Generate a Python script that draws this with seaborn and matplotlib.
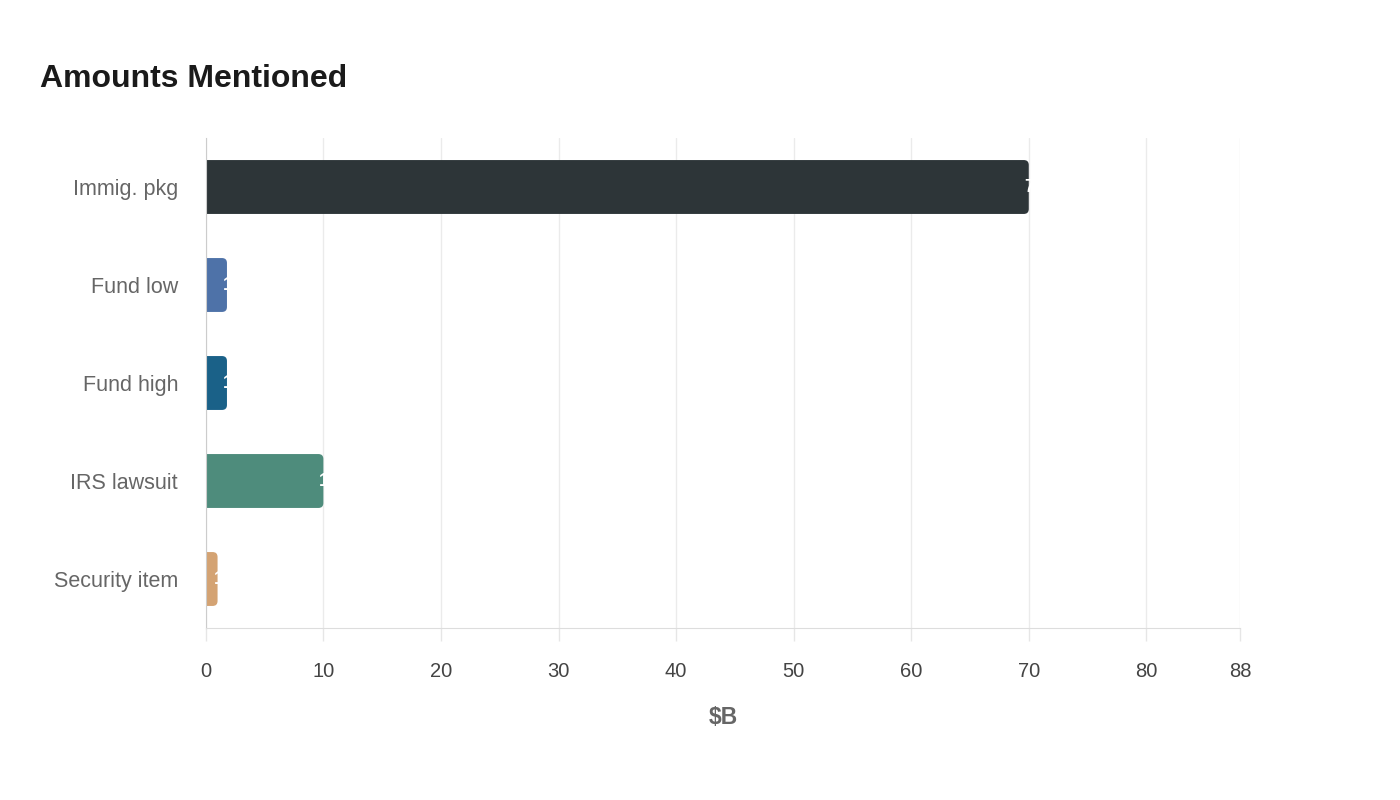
import matplotlib
matplotlib.use("Agg")
import matplotlib.pyplot as plt
from matplotlib.patches import FancyBboxPatch
import seaborn as sns
import pandas as pd

sns.set_style("white")
plt.rcParams["font.family"] = ["Liberation Sans", "DejaVu Sans"]

# data
categories = ["Immig. pkg", "Fund low", "Fund high", "IRS lawsuit", "Security item"]
values = [70, 1.8, 1.8, 10, 1]
labels = ["70", "1.8", "1.8", "10", "1"]
colors = ["#2d3538", "#4e72a8", "#1a6188", "#4e8c7c", "#d4a373"]
x_ticks = [0, 10, 20, 30, 40, 50, 60, 70, 80, 88]

df = pd.DataFrame({"item": categories, "amount": values})

fig = plt.figure(figsize=(14, 8), dpi=100)
ax = fig.add_axes([0.147, 0.215, 0.739, 0.6125])

sns.barplot(data=df, y="item", x="amount", hue="item", palette=colors,
            saturation=1, width=0.55, legend=False, ax=ax, orient="h")

# swap the square bars for rounded ones (left corners hidden behind axis)
for patch in list(ax.patches):
    x0, y0 = patch.get_x(), patch.get_y()
    w, h = patch.get_width(), patch.get_height()
    fc = patch.get_facecolor()
    patch.remove()
    rb = FancyBboxPatch((x0 - 0.6, y0), w + 0.6, h,
                        boxstyle="round,pad=0,rounding_size=0.42",
                        mutation_aspect=0.12, facecolor=fc, edgecolor="none",
                        zorder=2)
    ax.add_patch(rb)

# value labels sit at the bar end in white (mostly hidden on white bg)
for i, (v, lab) in enumerate(zip(values, labels)):
    ax.annotate(lab, xy=(v, i), xytext=(-3, 0), textcoords="offset points",
                ha="left", va="center", color="white", fontsize=13,
                fontweight="bold", zorder=3)

ax.set_xlim(0, 88)
ax.set_ylim(4.5, -0.5)
ax.set_xticks(x_ticks)
ax.set_xticklabels([str(t) for t in x_ticks])
ax.xaxis.grid(True, color="#ebebeb", linewidth=1)
ax.set_axisbelow(True)

for side in ["top", "right"]:
    ax.spines[side].set_visible(False)
ax.spines["left"].set_color("#cccccc")
ax.spines["bottom"].set_color("#dddddd")

ax.tick_params(axis="x", bottom=True, length=9, width=1, color="#e6e6e6",
               labelsize=14.5, labelcolor="#444444", pad=15.5)
ax.tick_params(axis="y", left=False, length=0, labelsize=15.5,
               labelcolor="#666666", pad=20)

ax.set_ylabel("")
ax.set_xlabel("$B", fontsize=16.5, fontweight="bold", color="#666666", labelpad=18)

fig.text(40 / 1400, 1 - 79 / 800, "Amounts Mentioned", fontsize=23,
         fontweight="bold", color="#1a1a1a", va="center", ha="left")

fig.savefig("out.png", dpi=100)
